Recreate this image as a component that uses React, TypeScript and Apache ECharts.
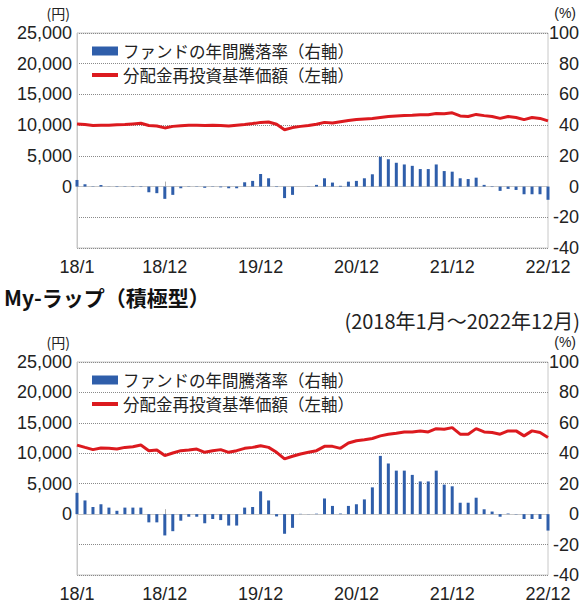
import React, { useEffect, useRef } from "react";
import * as echarts from "echarts";

const months = [
  "18/1","18/2","18/3","18/4","18/5","18/6","18/7","18/8","18/9","18/10","18/11","18/12",
  "19/1","19/2","19/3","19/4","19/5","19/6","19/7","19/8","19/9","19/10","19/11","19/12",
  "20/1","20/2","20/3","20/4","20/5","20/6","20/7","20/8","20/9","20/10","20/11","20/12",
  "21/1","21/2","21/3","21/4","21/5","21/6","21/7","21/8","21/9","21/10","21/11","21/12",
  "22/1","22/2","22/3","22/4","22/5","22/6","22/7","22/8","22/9","22/10","22/11","22/12",
];
const labelMonths = ["18/1", "18/12", "19/12", "20/12", "21/12", "22/12"];
const tickMonths = ["18/12", "19/12", "20/12", "21/12"];

// upper chart (cut-off fund)
const topNav = [
  10200, 10100, 9950, 10000, 10000, 10050, 10100, 10200, 10300, 9950, 9850, 9550,
  9800, 9900, 10000, 10000, 9950, 10000, 9950, 9850, 10000, 10100, 10250, 10450,
  10500, 10150, 9250, 9600, 9800, 9950, 10150, 10450, 10350, 10550, 10750, 10900,
  11000, 11100, 11250, 11400, 11500, 11550, 11600, 11680, 11700, 11900, 11850, 12000,
  11500, 11400, 11750, 11550, 11400, 11100, 11400, 11250, 10900, 11250, 11100, 10700,
];
const topPct = [
  4.3, 1.5, 0.2, 1.0, 0.1, -0.3, -0.2, -0.3, -0.3, -3.7, -4.3, -8.0,
  -5.4, -1.1, -0.2, -0.2, -0.8, -0.2, -0.5, -1.1, -1.1, 2.8, 3.7, 8.2,
  5.4, -0.3, -7.5, -5.4, 0, 0.1, 1.1, 5.4, 2.6, 0.5, 3.2, 3.7,
  5.4, 8.0, 19.4, 17.8, 15.5, 14.4, 13.5, 11.4, 11.4, 14.4, 10.1, 9.7,
  5.4, 4.9, 5.8, 1.1, -0.3, -2.8, -1.5, -2.2, -5.0, -5.0, -5.0, -8.6,
];

// lower chart: My-ラップ（積極型）
const bottomNav = [
  11350, 10970, 10600, 10870, 10810, 10700, 10970, 11080, 11350, 10430, 10540, 9620,
  10050, 10430, 10540, 10700, 10160, 10430, 10600, 10160, 10430, 10810, 10970, 11240,
  10970, 10160, 9080, 9510, 9890, 10160, 10430, 11140, 11140, 10810, 11680, 12050,
  12220, 12430, 12860, 13140, 13300, 13510, 13510, 13680, 13510, 14050, 13950, 14220,
  13140, 13140, 14050, 13510, 13410, 13140, 13680, 13680, 12860, 13680, 13410, 12590,
];
const bottomPct = [
  14.0, 9.0, 4.7, 6.5, 4.3, 2.2, 4.3, 4.3, 4.3, -5.4, -5.4, -14.0,
  -11.2, -4.3, -1.7, -1.7, -6.0, -3.2, -3.9, -7.5, -7.5, 4.3, 4.7, 15.0,
  9.0, -1.5, -12.9, -9.0, 0.2, 0.1, 0.3, 10.3, 5.4, 0.4, 5.4, 6.5,
  9.7, 17.6, 38.3, 33.3, 28.6, 28.6, 25.8, 21.5, 21.5, 28.6, 19.4, 18.3,
  7.5, 7.5, 10.8, 3.2, 1.7, -1.7, 0.4, -0.2, -3.2, -3.2, -3.2, -10.8,
];

const barName = "ファンドの年間騰落率（右軸）";
const lineName = "分配金再投資基準価額（左軸）";
const chartTitle = "My-ラップ（積極型）";
const periodText = "(2018年1月～2022年12月)";
const yenUnit = "(円)";
const pctUnit = "(%)";

const BLUE = "#2f5eaa";
const RED = "#dc1a1f";
const NUM_FONT = "'Liberation Sans', Arial, sans-serif";
const JP_FONT = "'Noto Sans CJK JP', sans-serif";

export default function App() {
  const ref = useRef<HTMLDivElement>(null);

  useEffect(() => {
    if (!ref.current) return;
    const chart = echarts.init(ref.current, null, { renderer: "svg" });

    const gridTops = [33, 362];
    const gridH = 215;
    const offsets = [0, 329];

    const grids = gridTops.map((t) => ({
      left: 77,
      top: t,
      width: 472,
      height: gridH,
      show: true,
      borderColor: "#c8c8c8",
      borderWidth: 1,
      backgroundColor: "transparent",
    }));

    const xAxes = gridTops.map((_, g) => ({
      type: "category",
      gridIndex: g,
      data: months,
      boundaryGap: false,
      axisLine: { lineStyle: { color: "#c8c8c8", width: 1 } },
      axisTick: {
        show: true,
        inside: true,
        length: 5,
        interval: (i: number) => tickMonths.includes(months[i]),
        lineStyle: { color: "#b0b0b0" },
      },
      axisLabel: {
        interval: (i: number) => labelMonths.includes(months[i]),
        margin: 10,
        fontSize: 18,
        color: "#222",
        fontFamily: NUM_FONT,
      },
      splitLine: { show: false },
    }));

    const yAxes: any[] = [];
    gridTops.forEach((_, g) => {
      yAxes.push({
        type: "value",
        gridIndex: g,
        position: "left",
        min: -10000,
        max: 25000,
        interval: 5000,
        axisLine: { show: true, lineStyle: { color: "#c8c8c8" } },
        axisTick: { show: false },
        axisLabel: {
          margin: 5,
          fontSize: 18,
          color: "#222",
          fontFamily: NUM_FONT,
          formatter: (v: number) => (v < 0 ? "" : v.toLocaleString("en-US")),
        },
        splitLine: { show: true, lineStyle: { type: "dotted", color: "#8a8a8a", width: 1 } },
      });
      yAxes.push({
        type: "value",
        gridIndex: g,
        position: "right",
        min: -40,
        max: 100,
        interval: 20,
        axisLine: { show: false },
        axisTick: { show: false },
        axisLabel: {
          margin: 31,
          align: "right",
          fontSize: 18,
          color: "#222",
          fontFamily: NUM_FONT,
        },
        splitLine: { show: false },
      });
    });

    const pctSets = [topPct, bottomPct];
    const navSets = [topNav, bottomNav];
    const series: any[] = [];
    gridTops.forEach((_, g) => {
      series.push({
        name: barName,
        type: "bar",
        xAxisIndex: g,
        yAxisIndex: g * 2 + 1,
        data: pctSets[g],
        barWidth: 3,
        itemStyle: { color: BLUE },
        z: 2,
      });
      series.push({
        name: lineName,
        type: "line",
        xAxisIndex: g,
        yAxisIndex: g * 2,
        data: navSets[g],
        showSymbol: false,
        symbol: "none",
        lineStyle: { color: RED, width: 3 },
        itemStyle: { color: RED },
        z: 3,
      });
    });

    const legendText = { fontSize: 16.5, lineHeight: 18, color: "#222", fontFamily: JP_FONT };
    const legends: any[] = [];
    offsets.forEach((o) => {
      legends.push({
        data: [{ name: barName, icon: "rect", itemStyle: { color: BLUE } }],
        left: 92,
        top: 42 + o,
        padding: 0,
        itemWidth: 26,
        itemHeight: 9,
        selectedMode: false,
        textStyle: legendText,
      });
      legends.push({
        data: [{ name: lineName, icon: "rect", itemStyle: { color: RED } }],
        left: 92,
        top: 66 + o,
        padding: 0,
        itemWidth: 26,
        itemHeight: 4,
        selectedMode: false,
        textStyle: legendText,
      });
    });

    const graphics: any[] = [];
    offsets.forEach((o) => {
      graphics.push({
        type: "text",
        x: 70,
        y: 13 + o,
        style: {
          text: yenUnit,
          fontSize: 14,
          fontFamily: JP_FONT,
          fill: "#222",
          align: "right",
          verticalAlign: "middle",
        },
      });
      graphics.push({
        type: "text",
        x: 576,
        y: 13 + o,
        style: {
          text: pctUnit,
          fontSize: 14,
          fontFamily: NUM_FONT,
          fill: "#222",
          align: "right",
          verticalAlign: "middle",
        },
      });
    });
    graphics.push({
      type: "text",
      x: 4,
      y: 297,
      style: {
        text: chartTitle,
        fontSize: 21,
        fontWeight: "bold",
        fontFamily: JP_FONT,
        fill: "#111",
        align: "left",
        verticalAlign: "middle",
      },
    });
    graphics.push({
      type: "text",
      x: 580,
      y: 320,
      style: {
        text: periodText,
        fontSize: 20,
        fontFamily: JP_FONT,
        fill: "#222",
        align: "right",
        verticalAlign: "middle",
      },
    });

    chart.setOption({
      animation: false,
      backgroundColor: "#ffffff",
      grid: grids,
      xAxis: xAxes,
      yAxis: yAxes,
      legend: legends,
      series,
      graphic: graphics,
    });

    return () => chart.dispose();
  }, []);

  return (
    <div
      ref={ref}
      style={{ position: "absolute", left: 0, top: 0, width: 582, height: 603, background: "#fff" }}
    />
  );
}
